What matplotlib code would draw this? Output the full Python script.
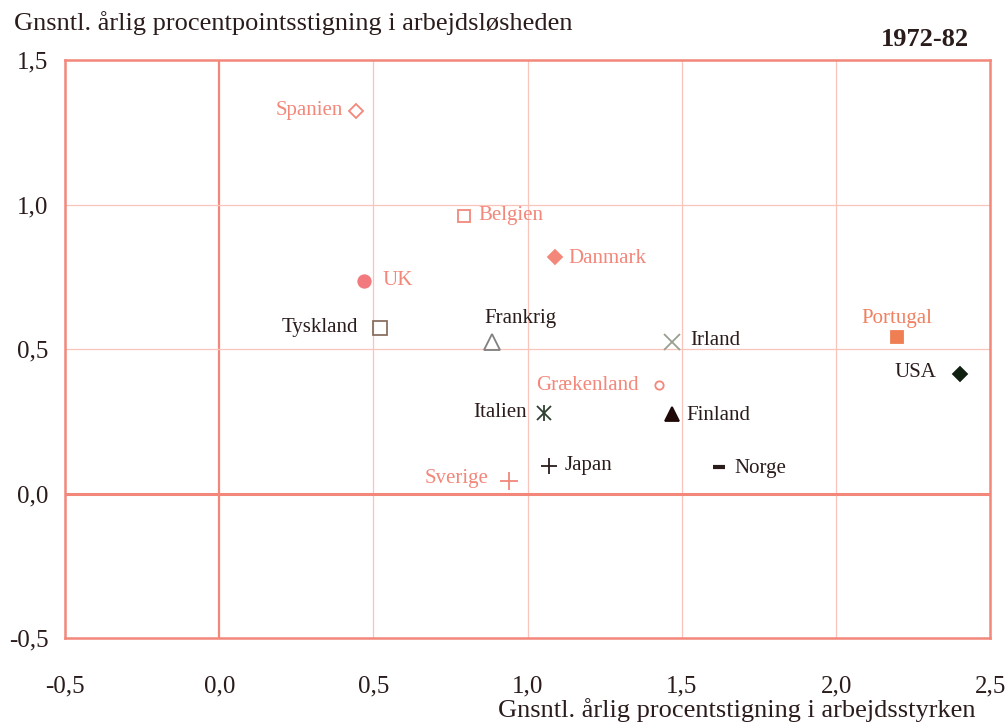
import matplotlib
matplotlib.use("Agg")
import matplotlib.pyplot as plt

# data
countries = ["Spanien", "Belgien", "Danmark", "UK", "Tyskland", "Frankrig", "Irland",
             "Portugal", "USA", "Grækenland", "Italien", "Finland", "Japan", "Norge", "Sverige"]
labour_growth = [0.445, 0.795, 1.088, 0.47, 0.52, 0.883, 1.467,
                 2.198, 2.40, 1.425, 1.052, 1.467, 1.068, 1.62, 0.938]
unemp_growth = [1.325, 0.962, 0.82, 0.737, 0.574, 0.523, 0.526,
                0.543, 0.415, 0.374, 0.28, 0.277, 0.097, 0.093, 0.045]
x_ticks = [-0.5, 0.0, 0.5, 1.0, 1.5, 2.0, 2.5]
y_ticks = [-0.5, 0.0, 0.5, 1.0, 1.5]

SALMON = "#f2877a"
DARK = "#2b1c1c"

# marker style, marker colour, label colour, label offset (px), alignment
style = {
    "Spanien":    dict(m="D", ms=7, fc="none", mc=SALMON, tc=SALMON, dx=-13, dy=0, ha="right"),
    "Belgien":    dict(m="s", ms=9, fc="none", mc=SALMON, tc=SALMON, dx=14, dy=0, ha="left"),
    "Danmark":    dict(m="D", ms=7, fc=SALMON, mc=SALMON, tc=SALMON, dx=14, dy=-2, ha="left"),
    "UK":         dict(m="o", ms=9, fc="#f27a7e", mc="#f27a7e", tc=SALMON, dx=18, dy=0, ha="left"),
    "Tyskland":   dict(m="s", ms=10, fc="none", mc="#8a7060", tc=DARK, dx=-22, dy=0, ha="right"),
    "Frankrig":   dict(m="^", ms=11, fc="none", mc="#808080", tc=DARK, dx=-7, dy=24, ha="left"),
    "Irland":     dict(m="x", ms=11, fc="none", mc="#98a090", tc=DARK, dx=19, dy=1, ha="left"),
    "Portugal":   dict(m="s", ms=9, fc="#ef7e52", mc="#ef7e52", tc="#f08060", dx=0, dy=18, ha="center"),
    "USA":        dict(m="D", ms=7, fc="#102010", mc="#102010", tc=DARK, dx=-23, dy=1, ha="right"),
    "Grækenland": dict(m="o", ms=6, fc="none", mc=SALMON, tc=SALMON, dx=-20, dy=0, ha="right"),
    "Italien":    dict(m="x", ms=10, fc="none", mc="#304030", tc=DARK, dx=-17, dy=0, ha="right"),
    "Finland":    dict(m="^", ms=10, fc="#200808", mc="#200808", tc=DARK, dx=15, dy=-2, ha="left"),
    "Japan":      dict(m="+", ms=11, fc="none", mc=DARK, tc=DARK, dx=16, dy=0, ha="left"),
    "Norge":      dict(m="_", ms=8, fc="none", mc=DARK, tc=DARK, dx=15, dy=-2, ha="left"),
    "Sverige":    dict(m="+", ms=13, fc="none", mc=SALMON, tc=SALMON, dx=-20, dy=2, ha="right"),
}

plt.rcParams["font.family"] = ["Liberation Serif", "DejaVu Serif"]

fig = plt.figure(figsize=(10.08, 7.25), dpi=100)
ax = fig.add_axes([0.0645, 0.12, 0.918, 0.797])

ax.set_xlim(-0.5, 2.5)
ax.set_ylim(-0.5, 1.5)

# grid + thicker zero lines
for xv in x_ticks[1:-1]:
    ax.axvline(xv, color=SALMON if xv == 0 else "#f8c4bc", lw=1.6 if xv == 0 else 0.9, zorder=1)
for yv in y_ticks[1:-1]:
    ax.axhline(yv, color=SALMON if yv == 0 else "#f8c4bc", lw=2.2 if yv == 0 else 0.9, zorder=1)

for s in ax.spines.values():
    s.set_color(SALMON)
    s.set_linewidth(1.8)

# points + labels
for name, x, y in zip(countries, labour_growth, unemp_growth):
    st = style[name]
    mew = 3.0 if name == "Norge" else 1.3
    ax.plot(x, y, marker=st["m"], ms=st["ms"], mfc=st["fc"], mec=st["mc"], mew=mew,
            ls="none", zorder=3)
    if name == "Italien":
        # asterisk: add the vertical stroke
        ax.plot(x, y, marker="|", ms=st["ms"] + 1, mec=st["mc"], mew=1.3, ls="none", zorder=3)
    ax.annotate(name, (x, y), xytext=(st["dx"] * 0.72, st["dy"] * 0.72),
                textcoords="offset points", ha=st["ha"], va="center",
                color=st["tc"], fontsize=15, zorder=4)

ax.set_xticks(x_ticks)
ax.set_yticks(y_ticks)
ax.set_xticklabels([f"{v:.1f}".replace(".", ",") for v in x_ticks], fontsize=18)
ax.set_yticklabels([f"{v:.1f}".replace(".", ",") for v in y_ticks], fontsize=18)
ax.tick_params(length=0, colors=DARK)
ax.tick_params(axis="x", pad=27)
ax.tick_params(axis="y", pad=12)

fig.text(0.014, 0.968, "Gnsntl. årlig procentpointsstigning i arbejdsløsheden",
         fontsize=19, color=DARK, va="center", ha="left")
fig.text(0.961, 0.946, "1972-82", fontsize=19, fontweight="bold", color=DARK,
         va="center", ha="right")
fig.text(0.968, 0.02, "Gnsntl. årlig procentstigning i arbejdsstyrken",
         fontsize=19, color=DARK, va="center", ha="right")

fig.savefig("out.png", dpi=100)
